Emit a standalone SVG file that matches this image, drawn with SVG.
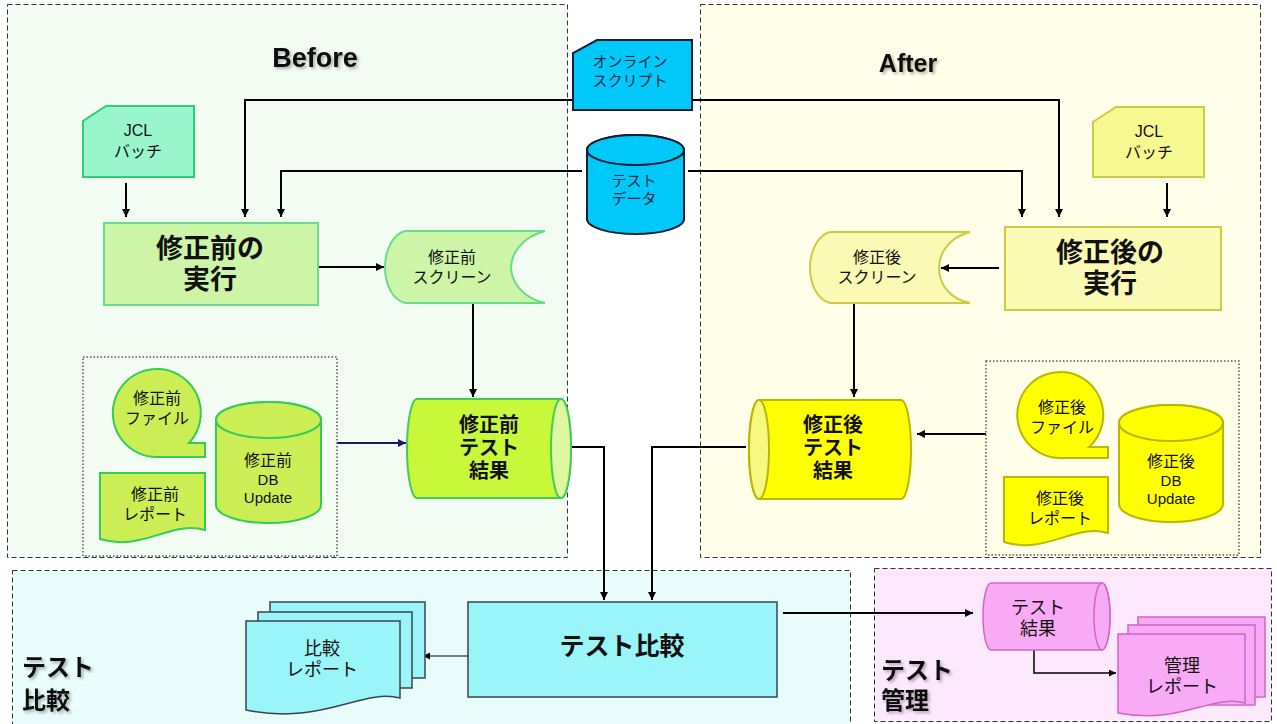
<svg xmlns="http://www.w3.org/2000/svg" width="1277" height="724" viewBox="0 0 1277 724">
<defs>
<marker id="ah" viewBox="0 0 10 10" refX="10" refY="5" markerWidth="9" markerHeight="8" markerUnits="userSpaceOnUse" orient="auto"><path d="M0,0 L10,5 L0,10 z" fill="#000"/></marker>
<marker id="ahn" viewBox="0 0 10 10" refX="10" refY="5" markerWidth="9" markerHeight="8" markerUnits="userSpaceOnUse" orient="auto"><path d="M0,0 L10,5 L0,10 z" fill="#1a1a6e"/></marker>
<marker id="ahs" viewBox="0 0 10 10" refX="10" refY="5" markerWidth="8" markerHeight="7" markerUnits="userSpaceOnUse" orient="auto"><path d="M0,0 L10,5 L0,10 z" fill="#000"/></marker>
<filter id="sh" x="-20%" y="-20%" width="140%" height="160%"><feDropShadow dx="2" dy="2" stdDeviation="1.5" flood-color="#000" flood-opacity="0.3"/></filter>
</defs>
<style>
text{font-family:"Liberation Sans","Noto Sans CJK JP",sans-serif;text-anchor:middle;fill:#111}
.s16{font-size:16px}
.s15{font-size:15px}
.b{font-weight:bold}
.region{stroke:#333;stroke-width:1;stroke-dasharray:5 3}
.grp{fill:none;stroke:#555;stroke-width:1.5;stroke-dasharray:1.5 2}
.conn{fill:none;stroke:#000;stroke-width:2}
.gA{fill:#ccf5a8;stroke:#66dd88;stroke-width:2}
.gB{fill:#ccee55;stroke:#33cc55;stroke-width:2}
.gC{fill:#c8f83a;stroke:#44cc55;stroke-width:2}
.yA{fill:#fafab4;stroke:#cccc44;stroke-width:2}
.yB{fill:#ffff00;stroke:#b8b800;stroke-width:2}
.blue{fill:#00c8f8;stroke:#102030;stroke-width:2}
.cyan{fill:#99f5f7;stroke:#3a4450;stroke-width:1.5}
.pink{fill:#f8aaf4;stroke:#cc66cc;stroke-width:1.5}
.dark{fill:#1a2a4a}
</style>

<!-- regions -->
<g id="region-before"><rect class="region" x="7.5" y="4.5" width="560" height="553" fill="#f3fcf2"/>
<text x="315" y="67" class="b" font-size="27" filter="url(#sh)">Before</text></g>
<g id="region-after"><rect class="region" x="700.5" y="4.5" width="560" height="553" fill="#fefee9"/>
<text x="908" y="72" class="b" font-size="25" filter="url(#sh)">After</text></g>
<g id="region-compare"><rect class="region" x="12.5" y="570.5" width="838" height="160" fill="#e8fcfc"/>
<text class="b" font-size="24" filter="url(#sh)" style="text-anchor:start"><tspan x="22" y="676">テスト</tspan><tspan x="22" y="709">比較</tspan></text></g>
<g id="region-manage"><rect class="region" x="874.5" y="568.5" width="397" height="153" fill="#fde8fd"/>
<text class="b" font-size="24" filter="url(#sh)" style="text-anchor:start"><tspan x="881" y="679">テスト</tspan><tspan x="881" y="709">管理</tspan></text></g>

<!-- connectors -->
<g id="connectors">
<polyline class="conn" points="573,100 245,100 245,217" marker-end="url(#ah)"/>
<polyline class="conn" points="692,100 1059,100 1059,217" marker-end="url(#ah)"/>
<polyline class="conn" points="582,171 281,171 281,217" marker-end="url(#ah)"/>
<polyline class="conn" points="688,171 1022,171 1022,217" marker-end="url(#ah)"/>
<line class="conn" x1="126" y1="183" x2="126" y2="217" marker-end="url(#ah)"/>
<line class="conn" x1="1167" y1="183" x2="1167" y2="217" marker-end="url(#ah)"/>
<line class="conn" x1="318" y1="267" x2="384" y2="267" marker-end="url(#ah)"/>
<line class="conn" x1="999" y1="268" x2="941" y2="268" marker-end="url(#ah)"/>
<line class="conn" x1="473" y1="303" x2="473" y2="397" marker-end="url(#ah)"/>
<line class="conn" x1="854" y1="303" x2="854" y2="397" marker-end="url(#ah)"/>
<line class="conn" x1="337" y1="443" x2="406" y2="443" style="stroke:#1a1a6e" marker-end="url(#ahn)"/>
<line class="conn" x1="986" y1="434" x2="917" y2="434" marker-end="url(#ah)"/>
<polyline class="conn" points="571,447 604,447 604,600" marker-end="url(#ah)"/>
<polyline class="conn" points="746,447 652,447 652,600" marker-end="url(#ah)"/>
<line x1="468" y1="656" x2="423" y2="656" stroke="#000" stroke-width="1" marker-end="url(#ahs)"/>
<line class="conn" x1="783" y1="613" x2="973" y2="613" marker-end="url(#ah)"/>
<polyline points="1034,650 1034,673 1116,673" fill="none" stroke="#000" stroke-width="1.5" marker-end="url(#ahs)"/>
</g>

<!-- shared nodes -->
<g id="online-script"><path class="blue" d="M597,40 H692 V110 H573 V53 Z"/>
<text class="s15 dark"><tspan x="630" y="67">オンライン</tspan><tspan x="630" y="86">スクリプト</tspan></text></g>
<g id="test-data"><path class="blue" d="M587,150 A48.5,15 0 0 1 684,150 V219 A48.5,15 0 0 1 587,219 Z"/><ellipse class="blue" cx="635.5" cy="150" rx="48.5" ry="15"/>
<text class="s15 dark"><tspan x="634" y="186">テスト</tspan><tspan x="634" y="204">データ</tspan></text></g>

<!-- before nodes -->
<g id="jcl-before"><path d="M106,106 H194 V177 H83 V121 Z" fill="#99f5cc" stroke="#33cc77" stroke-width="2"/>
<text class="s16"><tspan x="138" y="136">JCL</tspan><tspan x="138" y="157">バッチ</tspan></text></g>
<g id="exec-before"><rect class="gA" x="104" y="223" width="214" height="82"/>
<text class="b" font-size="27"><tspan x="210" y="258">修正前の</tspan><tspan x="210" y="289">実行</tspan></text></g>
<g id="screen-before"><path class="gA" d="M405,231 H545 C522,237 511,254 511,267 C511,281 522,298 545,303 H405 C393,300 385,285 385,267 C385,250 393,234 405,231 Z"/>
<text class="s16"><tspan x="452" y="263">修正前</tspan><tspan x="452" y="283">スクリーン</tspan></text></g>
<g id="group-before"><rect class="grp" x="83" y="357" width="254" height="199"/></g>
<g id="file-before"><path class="gB" d="M157,457 A44,44 0 1 1 189,443 H205 V457 Z"/>
<text class="s16"><tspan x="157" y="404">修正前</tspan><tspan x="157" y="424">ファイル</tspan></text></g>
<g id="report-before"><path class="gB" d="M100,473 H205 V530 C172,520 142,552 100,539 Z"/>
<text class="s16"><tspan x="155" y="500">修正前</tspan><tspan x="155" y="520">レポート</tspan></text></g>
<g id="db-before"><path class="gB" d="M216,420 A52.5,18 0 0 1 321,420 V505 A52.5,18 0 0 1 216,505 Z"/><ellipse class="gB" cx="268.5" cy="420" rx="52.5" ry="18"/>
<text class="s16" x="268" y="466">修正前</text><text font-size="15" x="268" y="485">DB</text><text font-size="15" x="268" y="503">Update</text></g>
<g id="result-before"><path class="gC" d="M417,399 H561 A10,49.5 0 0 1 561,498 H417 A10,49.5 0 0 1 417,399 Z"/><ellipse cx="561" cy="448.5" rx="10" ry="49.5" fill="#def8a0" stroke="#44cc55" stroke-width="2"/>
<text class="b" font-size="20"><tspan x="489" y="432">修正前</tspan><tspan x="489" y="455">テスト</tspan><tspan x="489" y="478">結果</tspan></text></g>

<!-- after nodes -->
<g id="jcl-after"><path d="M1116,107 H1204 V177 H1093 V122 Z" fill="#f8f890" stroke="#cccc44" stroke-width="2"/>
<text class="s16"><tspan x="1149" y="137">JCL</tspan><tspan x="1149" y="158">バッチ</tspan></text></g>
<g id="exec-after"><rect class="yA" x="1005" y="227" width="216" height="83"/>
<text class="b" font-size="27"><tspan x="1110" y="262">修正後の</tspan><tspan x="1110" y="293">実行</tspan></text></g>
<g id="screen-after"><path class="yA" d="M830,232 H970 C947,238 939,255 939,268 C939,282 947,298 970,303 H830 C818,300 810,285 810,268 C810,251 818,235 830,232 Z"/>
<text class="s16"><tspan x="877" y="263">修正後</tspan><tspan x="877" y="283">スクリーン</tspan></text></g>
<g id="group-after"><rect class="grp" x="986" y="361" width="253" height="194"/></g>
<g id="file-after"><path class="yB" d="M1060,458 A43,43 0 1 1 1089,447 H1108 V458 Z"/>
<text class="s16"><tspan x="1062" y="413">修正後</tspan><tspan x="1062" y="433">ファイル</tspan></text></g>
<g id="report-after"><path class="yB" d="M1004,477 H1108 V533 C1075,523 1046,555 1004,542 Z"/>
<text class="s16"><tspan x="1060" y="504">修正後</tspan><tspan x="1060" y="524">レポート</tspan></text></g>
<g id="db-after"><path class="yB" d="M1119,423 A52,18 0 0 1 1223,423 V504 A52,18 0 0 1 1119,504 Z"/><ellipse class="yB" cx="1171" cy="423" rx="52" ry="18"/>
<text class="s16" x="1171" y="467">修正後</text><text font-size="15" x="1171" y="486">DB</text><text font-size="15" x="1171" y="504">Update</text></g>
<g id="result-after"><path class="yB" d="M759,400 H901 A10,49.5 0 0 1 901,499 H759 A10,49.5 0 0 1 759,400 Z"/><ellipse cx="759" cy="449.5" rx="10" ry="49.5" fill="#f8f880" stroke="#b8b800" stroke-width="2"/>
<text class="b" font-size="20"><tspan x="833" y="432">修正後</tspan><tspan x="833" y="455">テスト</tspan><tspan x="833" y="478">結果</tspan></text></g>

<!-- compare -->
<g id="compare"><rect class="cyan" x="468" y="602" width="309" height="95"/>
<text class="b" font-size="25" x="622" y="655">テスト比較</text></g>
<g id="compare-report"><rect class="cyan" x="270" y="602" width="155" height="76"/><rect class="cyan" x="258" y="612" width="154" height="76"/>
<path class="cyan" d="M246,621 H400 V698 C362,688 322,726 246,710 Z"/>
<text font-size="18"><tspan x="322" y="655">比較</tspan><tspan x="322" y="676">レポート</tspan></text></g>

<!-- management -->
<g id="result-manage"><path class="pink" d="M991,583 H1102 A8,33.5 0 0 1 1102,650 H991 A8,33.5 0 0 1 991,583 Z"/><ellipse cx="1102" cy="616.5" rx="8" ry="33.5" fill="#f8aaf4" stroke="#cc66cc" stroke-width="1.5"/>
<text font-size="18"><tspan x="1038" y="614">テスト</tspan><tspan x="1038" y="635">結果</tspan></text></g>
<g id="manage-report"><rect class="pink" x="1138" y="617" width="127" height="80"/><rect class="pink" x="1128" y="625" width="127" height="80"/>
<path class="pink" d="M1118,634 H1245 V703 C1212,694 1180,725 1118,713 Z"/>
<text font-size="18"><tspan x="1182" y="672">管理</tspan><tspan x="1182" y="693">レポート</tspan></text></g>
</svg>
